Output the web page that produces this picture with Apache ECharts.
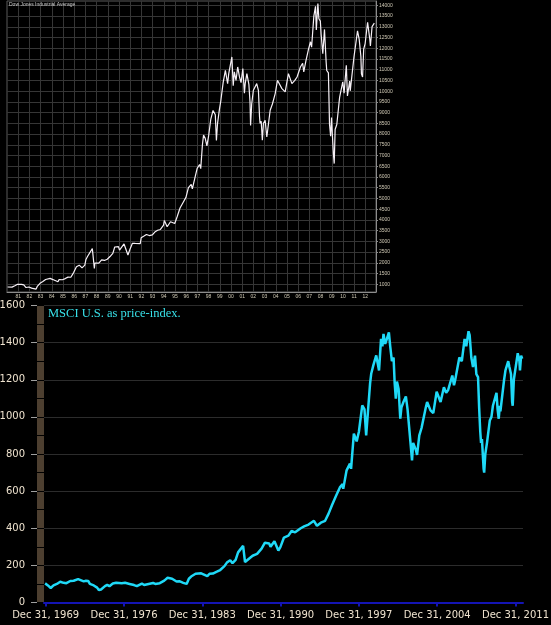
<!DOCTYPE html>
<html>
<head>
<meta charset="utf-8">
<script src="https://cdn.jsdelivr.net/npm/echarts@6/dist/echarts.min.js"></script>
<style>
html,body{margin:0;padding:0;background:#000;}
#chart{width:551px;height:625px;}
</style>
</head>
<body>
<div id="chart"></div>
<script>
// Dow Jones Industrial Average, decimal year / close
var dowYears = [1980.05,1980.2,1980.45,1980.7,1980.9,1981.0,1981.3,1981.5,1981.7,1981.95,
  1982.2,1982.6,1982.7,1982.8,1982.95,1983.2,1983.45,1983.85,1984.0,1984.1,1984.55,1984.65,1984.95,
  1985.2,1985.45,1985.7,1985.95,1986.2,1986.45,1986.6,1986.7,1986.95,1987.05,1987.2,1987.62,1987.7,
  1987.8,1987.85,1987.95,1988.2,1988.45,1988.7,1988.95,1989.2,1989.45,1989.62,1989.7,1989.95,
  1990.05,1990.45,1990.55,1990.8,1990.9,1990.98,1991.2,1991.45,1991.9,1991.98,1992.2,1992.45,1992.7,
  1992.98,1993.2,1993.45,1993.7,1993.98,1994.05,1994.3,1994.6,1994.98,1995.2,1995.45,1995.7,1995.98,
  1996.2,1996.45,1996.55,1996.8,1996.98,1997.2,1997.3,1997.45,1997.55,1997.7,1997.85,1998.0,1998.2,
  1998.4,1998.6,1998.7,1998.8,1998.98,1999.1,1999.3,1999.5,1999.7,1999.8,2000.08,2000.2,2000.3,
  2000.45,2000.6,2000.76,2000.9,2001.06,2001.2,2001.27,2001.42,2001.6,2001.7,2001.75,2001.85,2002.0,
  2002.3,2002.45,2002.55,2002.6,2002.7,2002.8,2002.9,2003.05,2003.2,2003.5,2003.7,2003.95,
  2004.15,2004.55,2004.84,2005.13,2005.44,2005.7,2005.9,2006.2,2006.4,2006.5,2006.7,2006.9,
  2007.1,2007.2,2007.4,2007.55,2007.62,2007.76,2007.85,2007.98,2008.05,2008.2,2008.35,2008.5,
  2008.55,2008.7,2008.8,2008.9,2008.98,2009.05,2009.15,2009.22,2009.3,2009.45,2009.7,2009.98,2010.1,
  2010.3,2010.4,2010.5,2010.6,2010.65,2010.98,2011.3,2011.45,2011.6,2011.65,2011.75,2011.85,2011.98,
  2012.2,2012.4,2012.45,2012.6,2012.7,2012.8];
var dowValues = [875,785,867,932,993,964,997,976,850,875,
  822,777,901,991,1046,1130,1222,1276,1258,1220,1115,1224,1211,
  1266,1335,1328,1546,1818,1892,1898,1767,1895,2158,2304,2662,2596,
  1738,1993,1938,1988,2141,2112,2168,2293,2440,2737,2692,2753,
  2590,2880,2905,2365,2442,2633,2913,2906,2894,3168,3235,3318,3271,
  3301,3435,3516,3555,3754,3978,3681,3913,3834,4157,4556,4789,5050,
  5500,5654,5450,6000,6400,6583,6391,7500,7950,7800,7450,7900,8700,
  9100,8900,7700,8500,9200,9574,10400,10972,10350,10818,11592,10250,10900,
  10500,11126,10662,10400,11050,9900,10350,10818,10300,9500,8400,9400,10040,
  10350,10040,8800,8500,8600,7710,8500,8642,7864,9108,9400,9886,
  10506,10118,9962,10818,10352,10500,10660,11126,11300,10900,11438,11904,
  12300,12050,13500,13950,12845,14080,13372,13265,12650,11740,12876,11350,
  10962,10851,8451,7900,8776,8001,7063,6624,8212,8447,9712,10428,9908,
  11205,9774,9686,10465,10015,11578,12811,12414,11614,10810,10655,11955,12218,
  13212,12393,12101,13009,13090,13170];
var dowYearTicks = [1981,1982,1983,1984,1985,1986,1987,1988,1989,1990,1991,1992,1993,1994,1995,1996,
  1997,1998,1999,2000,2001,2002,2003,2004,2005,2006,2007,2008,2009,2010,2011,2012];
var dowYearLabels = ['81','82','83','84','85','86','87','88','89','90','91','92','93','94','95','96',
  '97','98','99','00','01','02','03','04','05','06','07','08','09','10','11','12'];
var dowValueTicks = [1000,1500,2000,2500,3000,3500,4000,4500,5000,5500,6000,6500,7000,7500,
  8000,8500,9000,9500,10000,10500,11000,11500,12000,12500,13000,13500,14000];

// MSCI U.S. price index, decimal year / level
var msciYears = [1969.95,1970.2,1970.45,1970.7,1971.0,1971.3,1971.6,1971.85,1972.2,1972.5,1972.9,1973.0,
  1973.4,1973.6,1973.8,1973.95,1974.3,1974.6,1974.75,1974.95,1975.3,1975.5,1975.7,1976.0,1976.3,1976.8,
  1977.1,1977.5,1977.9,1978.15,1978.6,1978.8,1979.2,1979.6,1979.8,1980.2,1980.25,1980.6,1980.9,1981.3,
  1981.7,1981.95,1982.3,1982.6,1982.8,1983.0,1983.4,1983.9,1984.45,1984.65,1984.95,1985.3,1985.6,1985.98,
  1986.2,1986.5,1986.7,1986.98,1987.2,1987.65,1987.82,1987.98,1988.5,1988.9,1989.3,1989.6,1989.98,1990.1,
  1990.45,1990.8,1990.98,1991.3,1991.7,1991.98,1992.3,1992.8,1993.1,1993.5,1993.98,1994.1,1994.25,1994.6,
  1994.98,1995.3,1995.6,1995.98,1996.3,1996.55,1996.6,1996.9,1997.2,1997.3,1997.55,1997.8,1998.0,1998.3,
  1998.5,1998.65,1998.8,1999.0,1999.1,1999.3,1999.55,1999.8,1999.98,2000.1,2000.2,2000.35,2000.5,2000.68,
  2000.8,2000.95,2001.1,2001.2,2001.3,2001.4,2001.55,2001.7,2001.8,2001.98,2002.2,2002.35,2002.52,2002.6,
  2002.75,2002.85,2002.95,2003.1,2003.2,2003.4,2003.6,2003.98,2004.1,2004.4,2004.65,2004.95,2005.3,2005.6,
  2005.8,2005.98,2006.35,2006.5,2006.6,2006.98,2007.15,2007.2,2007.45,2007.6,2007.8,2007.9,2008.05,2008.2,
  2008.38,2008.5,2008.65,2008.75,2008.85,2008.92,2009.0,2009.15,2009.2,2009.3,2009.45,2009.7,2009.85,
  2009.98,2010.3,2010.4,2010.5,2010.6,2010.65,2010.98,2011.1,2011.35,2011.45,2011.6,2011.7,2011.75,
  2011.85,2011.98,2012.2,2012.35,2012.4,2012.5,2012.6];
var msciValues = [103,92,78,92,100,112,106,104,116,117,126,128,
  114,117,116,100,92,80,67,70,88,95,88,102,106,104,
  106,100,94,88,102,94,100,105,100,104,94,118,133,128,
  113,115,106,100,128,140,155,157,142,155,156,166,175,196,
  215,228,212,230,270,305,218,226,252,262,290,322,318,300,
  330,280,298,350,360,385,378,400,410,420,440,447,413,430,
  440,480,525,578,620,638,612,712,748,720,910,868,920,1062,
  1040,900,1020,1180,1232,1280,1331,1250,1420,1380,1447,1393,1420,1455,
  1380,1300,1320,1180,1098,1190,1150,990,1050,1080,1110,1040,925,930,
  766,860,860,820,795,900,940,1050,1080,1035,1020,1135,1080,1160,
  1130,1145,1223,1170,1196,1320,1330,1300,1420,1380,1461,1440,1320,1268,
  1330,1230,1214,1050,920,860,880,720,700,800,860,980,1000,
  1060,1130,1040,990,1060,1030,1200,1250,1300,1270,1230,1080,1060,
  1200,1196,1343,1300,1250,1330,1313];
var msciYearTicks = [1970,1977,1984,1991,1998,2005,2012];
var msciYearLabels = ['Dec 31, 1969','Dec 31, 1976','Dec 31, 1983','Dec 31, 1990',
  'Dec 31, 1997','Dec 31, 2004','Dec 31, 2011'];

function pairs(xs, ys) {
  return xs.map(function (x, i) { return [x, ys[i]]; });
}
function plain(v) { return String(v); }

var myChart = echarts.init(document.getElementById('chart'));
myChart.setOption({
  backgroundColor: '#000',
  animation: false,
  title: [{
    text: 'Dow Jones Industrial Average',
    left: 9, top: 2, padding: 0,
    textStyle: { color: '#c8c8c8', fontSize: 5, fontWeight: 'normal', fontFamily: 'Liberation Sans' }
  }, {
    text: 'MSCI U.S. as price-index.',
    left: 48, top: 307, padding: 0,
    textStyle: { color: '#38e0e8', fontSize: 12.5, fontWeight: 'normal', fontFamily: 'Liberation Serif' }
  }],
  grid: [
    { left: 7, right: 175, top: 1, bottom: 333, show: true, borderColor: '#5a5a5a', borderWidth: 1, outerBoundsMode: 'none' },
    { left: 44, right: 28, top: 305.5, bottom: 22.5, outerBoundsMode: 'none' },
    { left: 37, width: 7, top: 305.5, bottom: 22.5, outerBoundsMode: 'none' }
  ],
  xAxis: [{
    gridIndex: 0, type: 'value', min: 1980, max: 2012.95,
    axisLine: { lineStyle: { color: '#8c8c8c' } },
    axisTick: { show: false, customValues: dowYearTicks },
    axisLabel: {
      customValues: dowYearTicks, color: '#cfc8b4', fontSize: 5, margin: 2, fontFamily: 'Liberation Sans',
      formatter: function (v) { return dowYearLabels[dowYearTicks.indexOf(Math.round(v))]; }
    },
    splitLine: { show: true, lineStyle: { color: '#363636' } }
  }, {
    gridIndex: 1, type: 'value', min: 1969.85, max: 2012.67,
    axisLine: { lineStyle: { color: '#1414b4', width: 2 } },
    axisTick: { show: true, customValues: msciYearTicks, length: 4, lineStyle: { color: '#1414b4', width: 2 } },
    axisLabel: {
      customValues: msciYearTicks, color: '#efe3cf', fontSize: 10, margin: 8, fontFamily: 'DejaVu Sans',
      formatter: function (v) { return msciYearLabels[msciYearTicks.indexOf(Math.round(v))]; }
    },
    splitLine: { show: false }
  }, {
    gridIndex: 2, type: 'value', min: 0, max: 1, show: false
  }],
  yAxis: [{
    gridIndex: 0, type: 'value', position: 'right', min: 641, max: 14200,
    axisLine: { show: true, lineStyle: { color: '#8c8c8c' } },
    axisTick: { show: true, length: 2, customValues: dowValueTicks, lineStyle: { color: '#8c8c8c' } },
    axisLabel: { customValues: dowValueTicks, formatter: plain, color: '#cfc8b4', fontSize: 5, margin: 3, fontFamily: 'Liberation Sans' },
    splitLine: { show: true, lineStyle: { color: '#363636' } }
  }, {
    gridIndex: 1, type: 'value', min: 0, max: 1600, interval: 200,
    axisLine: { show: false }, axisTick: { show: false }, axisLabel: { show: false },
    splitLine: { show: true, lineStyle: { color: '#2c2c2c' } }
  }, {
    gridIndex: 2, type: 'value', position: 'left', min: 0, max: 1600, interval: 100,
    axisLine: { show: false }, axisTick: { show: false }, axisLabel: { show: false },
    splitLine: { show: true, lineStyle: { color: '#000', width: 1 } },
    splitArea: { show: true, areaStyle: { color: ['#4d3f30'] } }
  }, {
    gridIndex: 2, type: 'value', position: 'left', min: 0, max: 1600, interval: 200,
    axisLine: { show: false },
    axisTick: { show: true, length: 6, lineStyle: { color: '#a0a0a0', width: 1 } },
    axisLabel: { formatter: plain, color: '#efe3cf', fontSize: 10, margin: 12, fontFamily: 'DejaVu Sans' },
    splitLine: { show: false }
  }],
  series: [{
    name: 'Dow Jones Industrial Average',
    type: 'line', xAxisIndex: 0, yAxisIndex: 0,
    data: pairs(dowYears, dowValues),
    showSymbol: false,
    lineStyle: { color: '#f6f0f6', width: 1.2 }
  }, {
    name: 'MSCI U.S.',
    type: 'line', xAxisIndex: 1, yAxisIndex: 1,
    data: pairs(msciYears, msciValues),
    showSymbol: false,
    lineStyle: { color: '#1fd9f7', width: 2.5 }
  }]
});
</script>
</body>
</html>
